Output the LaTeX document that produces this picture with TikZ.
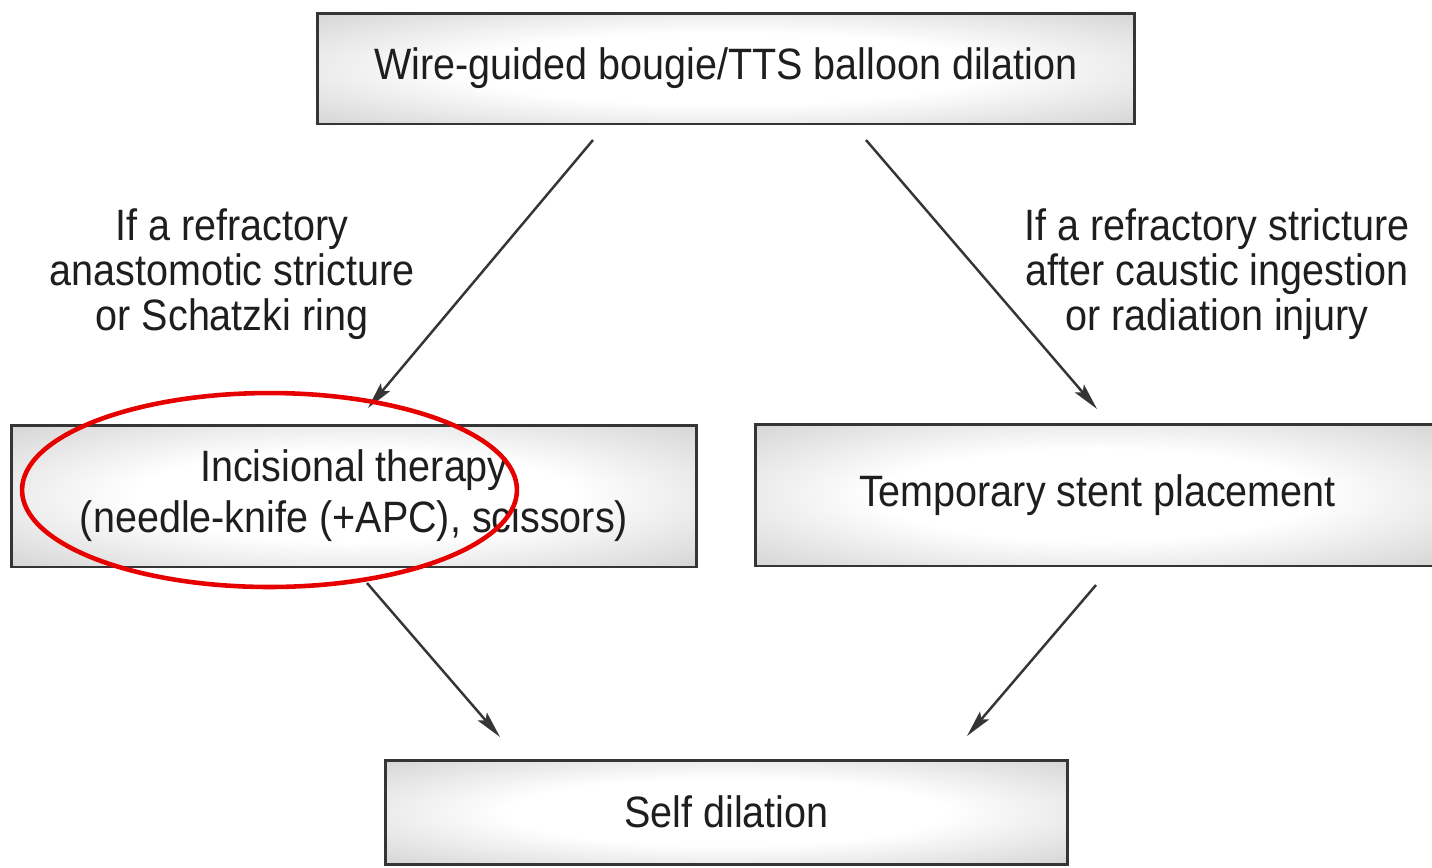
\documentclass[tikz,border=0pt]{standalone}
\usepackage{fontspec}
\setmainfont{Liberation Sans}[FakeStretch=0.9]
\usetikzlibrary{arrows.meta,shapes.geometric}
\pgfdeclareradialshading{boxshade}{\pgfpoint{0bp}{0bp}}{color(0bp)=(white); color(16bp)=(white); color(42bp)=(black!22); color(60bp)=(black!28); color(75bp)=(black!28)}
\definecolor{ink}{HTML}{1E1E1E}
\definecolor{hl}{HTML}{E60000}
\tikzset{
  box/.style={draw=ink!90, line width=1.7pt, shading=boxshade, rectangle, inner sep=0pt, outer sep=0pt, align=center, text=ink, font=\fontsize{25}{28.9}\selectfont},
  cond/.style={align=center, text=ink, inner sep=0pt, font=\fontsize{25}{25.6}\selectfont},
  conn/.style={draw=ink!90, line width=1.4pt, -{Stealth[length=0.54cm,width=0.24cm,inset=0.1cm]}},
  ringstyle/.style={draw=hl, line width=2.6pt, ellipse, inner sep=0pt}
}
\begin{document}
\begin{tikzpicture}[x=0.02cm,y=-0.02cm]
\useasboundingbox (0,0) rectangle (1432,867);
\clip (0,0) rectangle (1432,867);
\fill[white] (0,0) rectangle (1432,867);
\node[box, minimum width=16.36cm, minimum height=2.22cm] (top) at (726,68.5) {Wire-guided bougie/TTS balloon dilation};
\node[box, minimum width=13.72cm, minimum height=2.84cm] (inc) at (354,496) {Incisional therapy\\(needle-knife (+APC), scissors)};
\node[box, minimum width=13.7cm, minimum height=2.84cm] (stent) at (1097.5,495) {Temporary stent placement};
\node[box, minimum width=13.66cm, minimum height=2.08cm] (self) at (726.5,812) {Self dilation};
\node[cond] (lc) at (232,274) {If a refractory\\anastomotic stricture\\or Schatzki ring};
\node[cond] (rc) at (1217,274) {If a refractory stricture\\after caustic ingestion\\or radiation injury};
\coordinate (a1s) at (593,140);
\coordinate (a1e) at (368,408);
\coordinate (a2s) at (866,140);
\coordinate (a2e) at (1097,409);
\coordinate (a3s) at (367,583);
\coordinate (a3e) at (500,737);
\coordinate (a4s) at (1096,585);
\coordinate (a4e) at (967,736);
\draw[conn] (a1s) -- (a1e);
\draw[conn] (a2s) -- (a2e);
\draw[conn] (a3s) -- (a3e);
\draw[conn] (a4s) -- (a4e);
\node[ringstyle, minimum width=9.9cm, minimum height=3.88cm] (ring) at (269.5,490) {};
\end{tikzpicture}
\end{document}
